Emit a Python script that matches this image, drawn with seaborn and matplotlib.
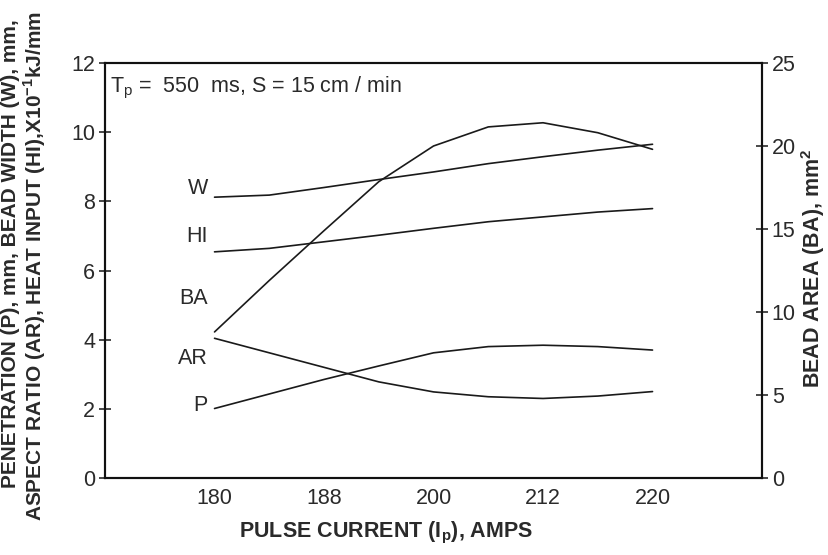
import numpy as np
import pandas as pd
import matplotlib
matplotlib.use("Agg")
import matplotlib.pyplot as plt
import seaborn as sns

# Pulse current tick labels (evenly spaced on the axis)
current_labels = ["180", "188", "200", "212", "220"]
# Readings taken at every half step along the (evenly spaced) current axis
sample_pos = [0, 0.5, 1, 1.5, 2, 2.5, 3, 3.5, 4]

W_vals  = [8.12, 8.18, 8.40, 8.63, 8.85, 9.09, 9.29, 9.48, 9.65]
HI_vals = [6.54, 6.64, 6.83, 7.02, 7.22, 7.41, 7.55, 7.69, 7.79]
AR_vals = [4.04, 3.62, 3.20, 2.78, 2.49, 2.35, 2.30, 2.37, 2.50]
P_vals  = [2.01, 2.43, 2.85, 3.24, 3.62, 3.80, 3.84, 3.80, 3.70]
BA_vals = [8.8, 11.9, 14.9, 17.85, 20.0, 21.15, 21.4, 20.8, 19.8]

left_series = {"W": W_vals, "HI": HI_vals, "AR": AR_vals, "P": P_vals}

sns.set_style("white")
plt.rcParams['font.family'] = ['Liberation Sans', 'DejaVu Sans']
plt.rcParams['mathtext.fontset'] = 'custom'
plt.rcParams['mathtext.rm'] = 'Liberation Sans'
plt.rcParams['mathtext.bf'] = 'Liberation Sans:bold'

fig = plt.figure(figsize=(8.29, 5.55), dpi=100)
ax = fig.add_axes([0.1267, 0.1387, 0.7925, 0.7478])

rows = []
for name, vals in left_series.items():
    for x, v in zip(sample_pos, vals):
        rows.append({"pos": x, "value": v, "series": name})
df = pd.DataFrame(rows)

line_color = "#1a1a1a"
sns.lineplot(data=df, x="pos", y="value", hue="series", units="series",
             estimator=None, palette={k: line_color for k in left_series},
             legend=False, ax=ax, linewidth=1.2)

ax2 = ax.twinx()
df_ba = pd.DataFrame({"pos": sample_pos, "BA": BA_vals})
sns.lineplot(data=df_ba, x="pos", y="BA", color=line_color, ax=ax2, linewidth=1.2)

ax.set_xlim(-1, 5)
ax.set_ylim(0, 12)
ax2.set_ylim(0, 25)
ax.set_xticks(range(len(current_labels)))
ax.set_xticklabels(current_labels)
ax.set_yticks(range(0, 13, 2))
ax2.set_yticks(range(0, 26, 5))

text_color = "#2a2a2a"
for a in (ax, ax2):
    for s in a.spines.values():
        s.set_linewidth(1.5)
        s.set_color("#111111")
ax.tick_params(axis="both", direction="inout", length=8, width=1.2,
               labelsize=15.5, colors=text_color, pad=3)
ax.tick_params(axis="x", pad=3)
ax2.tick_params(axis="y", direction="inout", length=8, width=1.2,
                labelsize=15.5, colors=text_color, pad=3)

ax.set_xlabel("")
ax.set_ylabel("")
ax2.set_ylabel("")

# Series labels
labels_pos = {"W": 8.38, "HI": 6.97, "BA": 5.2, "AR": 3.47, "P": 2.11}
for name, yv in labels_pos.items():
    ax.text(-0.06, yv, name, ha="right", va="center", fontsize=15.5, color=text_color)

ax.text(0.008, 0.94, "T$_\\mathregular{p}$ =  550  ms, S = 15 cm / min",
        transform=ax.transAxes, ha="left", va="center", fontsize=15.5, color=text_color)

fig.text(386 / 829, 1 - 533 / 555, "PULSE CURRENT (I$_\\mathregular{p}$), AMPS",
         ha="center", va="center", fontsize=15.5, fontweight="bold", color=text_color)
fig.text(11 / 829, 1 - 254 / 555, "PENETRATION (P), mm, BEAD WIDTH (W), mm,",
         ha="center", va="center", rotation=90, fontsize=15, fontweight="bold",
         color=text_color)
fig.text(35 / 829, 1 - 266 / 555,
         "ASPECT RATIO (AR), HEAT INPUT (HI),X10$^{\\mathbf{-1}}$kJ/mm",
         ha="center", va="center", rotation=90, fontsize=15, fontweight="bold",
         color=text_color)
fig.text(813 / 829, 1 - 268 / 555, "BEAD AREA (BA), mm$^{\\mathbf{2}}$",
         ha="center", va="center", rotation=90, fontsize=15.5, fontweight="bold",
         color=text_color)

fig.savefig("out.png", dpi=100)
